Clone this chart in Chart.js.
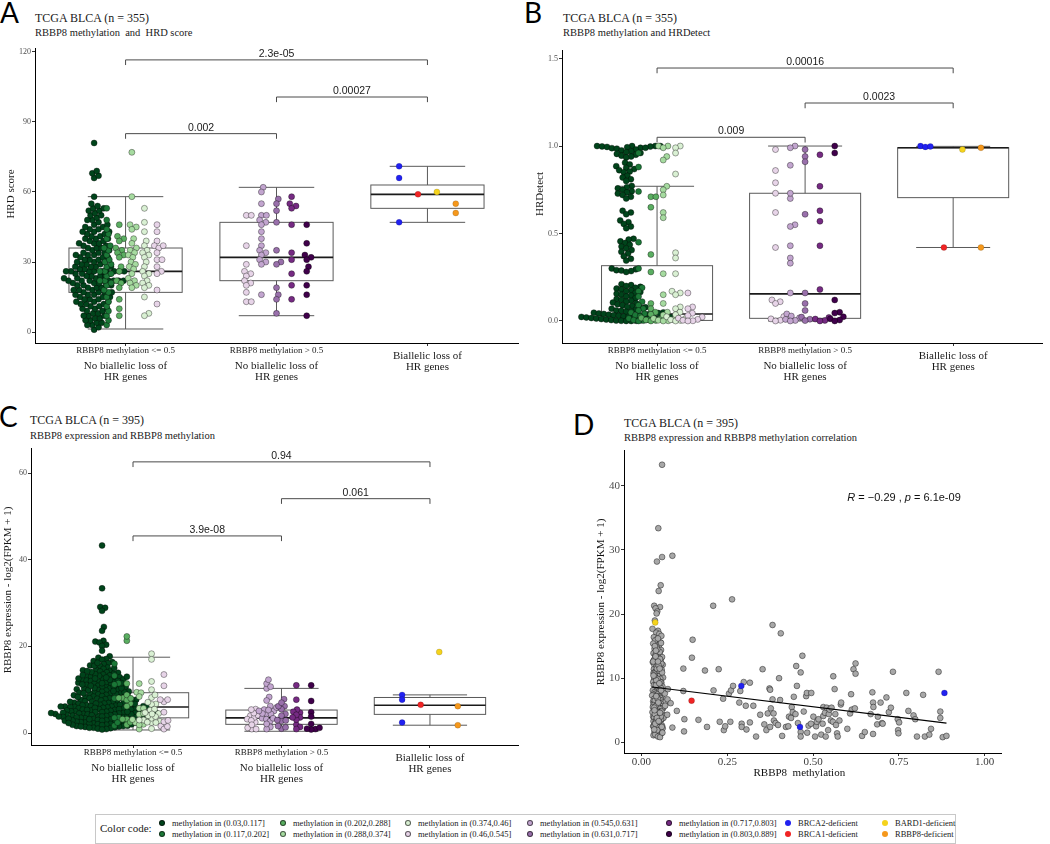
<!DOCTYPE html>
<html>
<head>
<meta charset="utf-8">
<script src="https://cdn.jsdelivr.net/npm/chart.js@4.4.1/dist/chart.umd.min.js"></script>
<style>
  body { margin: 0; width: 1050px; height: 844px; position: relative; overflow: hidden; background: #fff;
         font-family: 'Liberation Serif', serif; color: #1a1a1a; }
  canvas { position: absolute; }
  .txt { position: absolute; white-space: pre; line-height: 1; }
  .letter { font-family: Lato, sans-serif; font-size: 28px; color: #000; }
  .title { font-size: 12px; }
  .subtitle { font-size: 10.5px; }
  #legend { position: absolute; left: 95px; top: 814px; width: 861px; height: 30px; border: 1px solid #c8c8c8; box-sizing: border-box; }
  .lg-dot { position: absolute; width: 6px; height: 6px; border-radius: 50%; box-sizing: border-box; }
  .lg-txt { position: absolute; font-size: 8.5px; line-height: 10px; white-space: pre; color: #1a1a1a; }
</style>
</head>
<body>
<div class="txt letter" style="left:0px;top:-2px">A</div>
<div class="txt title" style="left:35px;top:12px">TCGA BLCA (n = 355)</div>
<div class="txt subtitle" style="left:35px;top:28px">RBBP8 methylation  and  HRD score</div>

<div class="txt letter" style="left:524px;top:-2px">B</div>
<div class="txt title" style="left:563px;top:12px">TCGA BLCA (n = 355)</div>
<div class="txt subtitle" style="left:563px;top:28px">RBBP8 methylation and HRDetect</div>

<div class="txt letter" style="left:-1px;top:402px">C</div>
<div class="txt title" style="left:30px;top:414px">TCGA BLCA (n = 395)</div>
<div class="txt subtitle" style="left:30px;top:431px">RBBP8 expression and RBBP8 methylation</div>

<div class="txt letter" style="left:573px;top:410px">D</div>
<div class="txt title" style="left:624px;top:417px">TCGA BLCA (n = 395)</div>
<div class="txt subtitle" style="left:624px;top:433px">RBBP8 expression and RBBP8 methylation correlation</div>

<canvas id="chartA" width="520" height="390" style="left:0;top:0"></canvas>
<canvas id="chartB" width="530" height="390" style="left:520px;top:0"></canvas>
<canvas id="chartC" width="520" height="400" style="left:0;top:390px"></canvas>
<canvas id="chartD" width="490" height="390" style="left:560px;top:400px"></canvas>

<div id="legend"></div>

<script>
// ---- shared categories and colours ----
const BIN_BREAKS = [0.03, 0.117, 0.202, 0.288, 0.374, 0.46, 0.545, 0.631, 0.717, 0.803, 0.889];
const BIN_COLORS = ['#00441b', '#1b7837', '#5aae61', '#a6dba0', '#d9f0d3', '#e7d4e8', '#c2a5cf', '#9970ab', '#762a83', '#40004b'];
const DEF_LABELS = ['BRCA2-deficient', 'BRCA1-deficient', 'BARD1-deficient', 'RBBP8-deficient'];
const DEF_COLORS = ['#2121f0', '#f02424', '#f5d31c', '#f5981c'];
const GROUP_SUBLABELS = ['RBBP8 methylation <= 0.5', 'RBBP8 methylation > 0.5', ''];
const GROUP_LABELS = [['No biallelic loss of', 'HR genes'], ['No biallelic loss of', 'HR genes'], ['Biallelic loss of', 'HR genes']];

// ---- A: HRD score by methylation bin ----
const hrdLow = [
  [1,2,3,3,4,4,5,5,6,6,7,7,7,8,8,9,9,10,10,10,11,11,12,12,12,13,13,13,14,14,14,15,15,15,16,16,16,17,17,17,17,18,18,18,19,19,19,
   20,20,20,20,21,21,21,22,22,22,22,22,22,22,22,23,23,23,24,24,24,24,25,25,25,26,26,26,26,26,26,26,26,27,27,27,28,28,28,28,29,29,29,
   30,30,30,31,31,31,32,32,32,33,33,33,34,34,34,35,35,36,36,36,37,37,38,38,38,39,39,40,40,40,41,41,42,42,43,43,43,44,44,45,45,46,46,
   47,48,48,49,50,50,51,52,52,53,53,54,55,58,66,67,68,69,81],
  [3,5,7,9,11,13,15,17,18,20,21,22,22,24,25,26,26,28,29,30,31,33,35,36,37,40,42,44,48,53],
  [46,41,40,39,36,35,34,33,32,28,26,22,21,19,14,10,7],
  [77,58,46,45,44,40,38,36,35,34,33,32,30,29,28,27,25,23,22,21,20,19],
  [53,47,43,39,37,35,34,33,32,30,28,26,25,24,22,21,20,19,15,8,7],
  [46,43,39,37,36,34,31,31,28,26,25,18,12,37]
];
const hrdHigh = [
  [50,50,37,29,26,25,24,22,21,20,17,13,13],
  [62,60,55,50,50,48,47,46,43,40,37,35,34,33,31,30,29,16],
  [57,55,52,47,35,30,29,19,16,14,8],
  [58,55,54,53,46,34,31,25,20,14],
  [46,38,33,32,31,28,26,20,16,7]
];
const hrdDef = [[71,66,47], [59], [60], [55,51]];
const hrdLo  = [1.3, 7, 47];
const hrdQ1  = [17, 22, 53];
const hrdMed = [26, 32, 59];
const hrdQ3  = [36, 47, 63];
const hrdHi  = [58, 62, 71];
const hrdTests = [[1, 3, 116.6, '2.3e-05'], [2, 3, 100.7, '0.00027'], [1, 2, 85, '0.002']];

// ---- B: HRDetect by methylation bin ----
const hrdetLow = [
  [1,1,1,1,0.998,0.997,0.995,0.993,0.99,0.99,0.988,0.985,0.98,0.975,0.97,0.965,0.96,0.955,0.95,0.945,0.94,0.935,
   0.905,0.895,0.885,0.875,0.868,0.862,0.855,0.85,0.83,0.82,0.81,0.8,
   0.772,0.765,0.758,0.75,0.742,0.735,0.728,0.72,0.71,0.7,0.63,0.62,0.61,0.575,0.565,0.555,0.54,0.53,
   0.47,0.465,0.455,0.445,0.435,0.425,0.415,0.405,0.395,0.385,0.37,0.355,0.345,0.3,0.295,0.29,0.288,0.285,0.28,
   0.21,0.205,0.2,0.195,0.19,0.185,0.18,0.175,0.17,0.165,0.16,0.155,0.15,0.145,0.14,
   0.13,0.125,0.12,0.115,0.11,0.105,0.1,0.095,0.09,0.085,0.08,0.078,0.075,0.07,0.065,0.06,0.058,0.055,0.052,
   0.049,0.047,0.045,0.043,0.041,0.04,0.038,0.036,0.034,0.033,0.031,0.03,0.028,0.026,0.025,0.023,0.021,0.02,
   0.019,0.017,0.015,0.014,0.012,0.011,0.009,0.008,0.006,0.005,0.004,0.002,0.001,0.001,0,0],
  [0.96,0.88,0.74,0.45,0.3,0.19,0.17,0.14,0.11,0.09,0.07,0.06,0.048,0.041,0.033,0.027,0.02,0.014,0.009,0.005,0.002,0],
  [0.71,0.71,0.65,0.38,0.28,0.1,0.07,0.05,0.038,0.026,0.017,0.011,0.006,0.003,0],
  [1,1,0.99,0.94,0.92,0.77,0.75,0.72,0.62,0.59,0.27,0.15,0.1,0.05,0.034,0.022,0.014,0.008,0.004,0.001,0],
  [1,0.99,0.96,0.84,0.39,0.36,0.27,0.17,0.16,0.15,0.08,0.07,0.05,0.036,0.024,0.013,0.007,0.003,0],
  [0.16,0.08,0.07,0.044,0.031,0.022,0.016,0.009,0.004,0.001,0]
];
const hrdetHigh = [
  [0.98,0.86,0.79,0.73,0.62,0.42,0.12,0.11,0.1,0.025,0.012,0.004,0],
  [1,0.99,0.89,0.7,0.73,0.55,0.54,0.43,0.36,0.33,0.16,0.04,0.028,0.018,0.009,0.003,0],
  [0.98,0.94,0.91,0.61,0.16,0.1,0.06,0.022,0.01,0.002],
  [0.95,0.77,0.63,0.57,0.43,0.18,0.02,0.011,0.003,0],
  [1,0.96,0.12,0.05,0.045,0.024,0.013,0.005,0]
];
const hrdetDef = [[1, 0.995, 0.998], [0.42], [0.98], [0.99, 0.42]];
const hrdetLo  = [0, 0, 0.42];
const hrdetQ1  = [0.003, 0.015, 0.705];
const hrdetMed = [0.04, 0.155, 0.99];
const hrdetQ3  = [0.316, 0.73, 0.99];
const hrdetHi  = [0.77, 1, 0.998];
const hrdetTests = [[1, 3, 1.446, '0.00016'], [2, 3, 1.246, '0.0023'], [1, 2, 1.05, '0.009']];

// ---- C / D: RBBP8 methylation and expression per sample ----
const denseSamples = [ // [methylation, expression]
  [0.060,43.3],[0.049,33.4],[0.090,29.1],[0.060,28.9],[0.045,28.2],[0.056,24.5],[0.050,23.6],[0.037,21.3],[0.054,21.1],[0.041,20.9],
  [0.046,20.4],[0.044,20.1],[0.039,19.0],[0.032,17.7],[0.048,17.4],[0.043,17.1],[0.052,16.9],[0.058,16.6],[0.036,16.4],[0.047,16.1],
  [0.040,15.9],[0.055,15.6],[0.034,15.4],[0.051,15.1],[0.045,14.8],[0.038,14.6],[0.057,14.4],[0.042,14.2],[0.049,14.0],[0.035,13.9],
  [0.053,13.7],[0.044,13.5],[0.060,13.3],[0.039,13.1],[0.047,13.0],[0.041,12.9],[0.056,12.7],[0.033,12.5],[0.050,12.4],[0.045,12.2],
  [0.062,12.1],[0.038,12.0],[0.054,11.9],[0.043,11.7],[0.048,11.6],[0.036,11.4],[0.059,11.3],[0.046,11.1],[0.040,11.0],[0.052,10.9],
  [0.035,10.8],[0.057,10.6],[0.044,10.5],[0.049,10.3],[0.038,10.2],[0.063,10.1],[0.042,10.0],[0.055,9.9],[0.037,9.8],[0.047,9.6],
  [0.051,9.5],[0.034,9.4],[0.058,9.3],[0.045,9.1],[0.040,9.0],[0.053,9.0],[0.036,8.9],[0.049,8.8],[0.061,8.7],[0.043,8.6],
  [0.056,8.5],[0.039,8.4],[0.046,8.3],[0.052,8.2],[0.033,8.1],[0.065,8.0],[0.044,8.0],[0.050,7.9],[0.038,7.8],[0.057,7.7],
  [0.042,7.6],[0.047,7.5],[0.035,7.4],[0.060,7.3],[0.045,7.2],[0.053,7.1],[0.040,7.0],[0.048,7.0],[0.068,7.6],[0.031,7.3],
  [0.055,6.9],[0.037,6.8],[0.051,6.7],[0.043,6.6],[0.058,6.5],[0.034,6.4],[0.046,6.3],[0.062,6.2],[0.041,6.1],[0.049,6.0],
  [0.054,6.0],[0.036,6.1],[0.044,6.2],[0.059,6.0],[0.039,6.5],[0.047,6.8],[0.071,6.4],[0.052,5.9],[0.035,5.8],[0.045,5.7],
  [0.057,5.6],[0.040,5.5],[0.050,5.4],[0.063,5.3],[0.038,5.2],[0.048,5.1],[0.043,5.0],[0.055,5.0],[0.033,5.5],[0.046,5.8],
  [0.060,5.3],[0.041,5.6],[0.053,5.2],[0.069,5.7],[0.037,5.4],[0.049,4.9],[0.042,4.8],[0.056,4.7],[0.036,4.6],[0.051,4.5],
  [0.044,4.4],[0.061,4.3],[0.039,4.2],[0.047,4.1],[0.054,4.0],[0.034,4.0],[0.045,4.5],[0.058,4.8],[0.040,4.3],[0.050,4.6],
  [0.066,4.1],[0.043,4.4],[0.032,4.7],[0.052,3.9],[0.038,3.8],[0.046,3.7],[0.059,3.6],[0.041,3.5],[0.048,3.4],[0.035,3.3],
  [0.055,3.2],[0.044,3.1],[0.050,3.0],[0.064,3.8],[0.037,3.9],[0.053,3.5],[0.042,3.3],[0.057,3.6],[0.047,3.7],[0.039,2.9],
  [0.051,2.8],[0.045,2.7],[0.060,2.6],[0.034,2.5],[0.049,2.4],[0.043,2.3],[0.056,2.2],[0.040,2.1],[0.052,2.0],[0.036,2.5],
  [0.047,2.8],[0.062,2.2],[0.044,2.6],[0.050,1.9],[0.041,1.8],[0.055,1.7],[0.038,1.6],[0.046,1.5],[0.058,1.4],[0.043,1.3],
  [0.049,1.2],[0.035,1.1],[0.053,1.0],[0.045,1.6],[0.040,1.2],[0.048,0.9],[0.054,0.8],[0.042,8.9],[0.055,9.4],[0.047,9.9],
  [0.038,10.7],[0.051,11.2],[0.044,11.8],[0.058,12.3],[0.036,12.8],[0.049,13.2],[0.041,13.6],[0.053,14.1],[0.046,14.5],[0.039,15.0],
  [0.057,15.5],[0.048,16.2],[0.043,9.7],[0.052,9.2],[0.037,10.4],[0.060,10.9],[0.045,11.5],[0.050,12.0],[0.034,12.6],[0.054,13.0],
  [0.042,14.3],[0.047,4.7],[0.039,4.4],[0.056,4.0],[0.044,3.6],[0.051,3.2],[0.040,2.9],[0.059,2.4],[0.046,1.9],[0.035,10.4],
  [0.053,11.5],[0.048,12.6],[0.041,13.4],[0.057,8.1],[0.043,7.2],[0.049,6.2],[0.038,5.0],[0.054,4.6],[0.045,3.8],[0.050,3.3],
  [0.037,2.0],[0.061,1.5]
];
const spreadSamples = [ // [methylation, expression]
  [0.077,8.3],[0.076,6.7],[0.075,4.3],[0.085,6.1],[0.090,2.3],[0.103,4.9],[0.122,8.0],[0.122,11.5],[0.125,3.6],[0.124,1.7],
  [0.147,13.2],[0.149,16.0],[0.166,3.5],[0.185,11.2],[0.191,2.4],[0.209,21.3],[0.210,8.1],[0.225,11.4],[0.228,3.2],[0.238,6.8],
  [0.240,1.9],[0.244,2.5],[0.255,7.6],[0.259,3.2],[0.261,8.1],[0.264,22.3],[0.267,8.8],[0.285,6.2],[0.288,8.0],[0.292,2.9],
  [0.292,2.4],[0.298,9.4],[0.306,2.0],[0.304,5.7],[0.316,9.3],[0.316,3.1],[0.326,5.7],[0.334,0.9],[0.346,4.3],[0.353,11.4],
  [0.358,2.8],[0.364,1.9],[0.368,4.5],[0.373,8.4],[0.375,2.4],[0.375,8.2],[0.377,5.3],[0.382,18.3],[0.382,6.7],[0.385,4.5],
  [0.386,3.4],[0.391,3.0],[0.398,2.7],[0.401,10.0],[0.404,6.6],[0.406,17.0],[0.410,1.0],[0.421,2.4],[0.428,2.5],[0.430,4.0],
  [0.436,3.8],[0.438,5.5],[0.441,4.7],[0.444,7.1],[0.449,4.4],[0.451,11.9],[0.453,8.8],[0.456,3.0],[0.464,10.9],[0.464,1.6],
  [0.464,0.9],[0.469,13.5],[0.473,4.8],[0.480,7.2],[0.482,7.7],[0.483,1.5],[0.487,2.6],[0.494,2.9],[0.495,7.7],
  [0.501,4.0],[0.506,0.9],[0.509,2.5],[0.511,3.2],[0.516,3.6],[0.524,1.2],[0.528,2.9],[0.530,5.5],[0.530,4.1],[0.535,4.6],
  [0.537,0.9],[0.540,5.4],[0.544,1.9],[0.546,4.4],[0.548,5.1],[0.552,3.4],[0.554,5.4],[0.558,3.2],[0.559,10.3],[0.563,8.3],
  [0.565,4.4],[0.567,2.7],[0.570,1.4],[0.572,0.9],[0.577,3.4],[0.581,5.9],[0.582,6.2],[0.600,2.1],[0.608,4.5],[0.611,7.5],
  [0.613,5.1],[0.618,11.4],[0.622,5.3],[0.624,12.3],[0.624,10.7],[0.643,1.0],[0.651,1.6],[0.668,4.4],[0.673,7.8],[0.675,6.2],
  [0.675,1.3],[0.676,5.5],[0.687,2.8],[0.689,4.0],[0.697,6.2],[0.701,3.0],[0.703,2.9],[0.714,7.0],[0.721,4.7],[0.727,5.4],
  [0.733,11.0],[0.747,3.6],[0.748,1.9],[0.749,1.4],[0.751,3.1],[0.772,7.7],[0.778,4.9],[0.793,4.2],[0.798,3.6],[0.803,0.9],
  [0.821,7.4],[0.826,0.9],[0.839,1.2],[0.844,2.1],[0.866,11.0],[0.871,4.8],[0.871,3.8],[0.878,0.8],[0.889,1.0]
];
const defType = [0, 0, 0, 1, 2, 3, 3];
const defMeth = [0.291, 0.883, 0.462, 0.146, 0.040, null, null];
const defExpr = [8.8, 7.7, 2.4, 6.5, 18.7, 6.2, 1.8];
const exprLo  = [0.7, 0.4, 1.8];
const exprQ1  = [3.5, 2.0, 4.3];
const exprMed = [6.0, 3.5, 6.4];
const exprQ3  = [9.3, 5.3, 8.2];
const exprHi  = [17.5, 10.3, 8.8];
const exprTests = [[1, 3, 62.6, '0.94'], [2, 3, 54.1, '0.061'], [1, 2, 45.5, '3.9e-08']];
const corLabel = { x: 0.6, y: 37.6, r: '\u22120.29', p: '6.1e-09' };

// ---- helpers ----
function binOf(m) {
  for (let i = 1; i < BIN_BREAKS.length; i++) if (m <= BIN_BREAKS[i]) return i - 1;
  return BIN_BREAKS.length - 2;
}

// simple swarm: place points (sorted by value) as close to the centre as possible without overlap
function beeswarm(pys, d) {
  const idx = pys.map((_, i) => i).sort((a, b) => pys[b] - pys[a]);
  const placed = [];
  const out = new Array(pys.length).fill(0);
  idx.forEach(i => {
    const y = pys[i];
    const near = placed.filter(p => Math.abs(p.y - y) < d);
    const cands = [0];
    near.forEach(p => {
      const dx = Math.sqrt(d * d - (p.y - y) ** 2);
      cands.push(p.x + dx, p.x - dx);
    });
    cands.sort((a, b) => Math.abs(a) - Math.abs(b));
    const best = cands.find(c => near.every(p => (p.x - c) ** 2 + (p.y - y) ** 2 >= d * d - 0.01));
    placed.push({ x: best, y });
    out[i] = best;
  });
  return out;
}

function applySwarm(chart, spacing) {
  const xs = chart.scales.x, ys = chart.scales.y;
  chart.data.datasets.forEach(ds => {
    if (ds.swarmCenter === undefined) return;
    const cx = xs.getPixelForValue(ds.swarmCenter);
    const offs = beeswarm(ds.data.map(p => ys.getPixelForValue(p.y)), spacing);
    ds.data.forEach((p, i) => { p.x = xs.getValueForPixel(cx + offs[i]); });
  });
  chart.update('none');
}

// ---- plugins ----
const boxPlugin = {
  id: 'boxes',
  beforeDatasetsDraw(chart, args, o) {
    if (!o.med) return;
    const { ctx, scales: { x, y } } = chart;
    ctx.save();
    ctx.strokeStyle = '#5a5a5a';
    ctx.lineWidth = 1;
    o.med.forEach((m, i) => {
      const c = i + 1;
      const xl = x.getPixelForValue(c - 0.375), xr = x.getPixelForValue(c + 0.375);
      const cl = x.getPixelForValue(c - 0.25), cr = x.getPixelForValue(c + 0.25);
      const xc = x.getPixelForValue(c);
      const yLo = y.getPixelForValue(o.lo[i]), yHi = y.getPixelForValue(o.hi[i]);
      const yQ1 = y.getPixelForValue(o.q1[i]), yQ3 = y.getPixelForValue(o.q3[i]);
      const yM = y.getPixelForValue(m);
      ctx.beginPath();
      ctx.moveTo(cl, yHi); ctx.lineTo(cr, yHi);
      ctx.moveTo(cl, yLo); ctx.lineTo(cr, yLo);
      ctx.moveTo(xc, yHi); ctx.lineTo(xc, yQ3);
      ctx.moveTo(xc, yQ1); ctx.lineTo(xc, yLo);
      ctx.stroke();
      ctx.strokeRect(xl, yQ3, xr - xl, yQ1 - yQ3);
      ctx.save();
      ctx.strokeStyle = '#1a1a1a';
      ctx.lineWidth = 1.6;
      ctx.beginPath(); ctx.moveTo(xl, yM); ctx.lineTo(xr, yM); ctx.stroke();
      ctx.restore();
    });
    ctx.restore();
  },
  afterDatasetsDraw(chart, args, o) {
    if (!o.tests) return;
    const { ctx, scales: { x, y } } = chart;
    ctx.save();
    ctx.strokeStyle = '#4a4a4a';
    ctx.lineWidth = 1;
    ctx.fillStyle = '#1a1a1a';
    ctx.font = '10.5px "Liberation Sans", Arial, sans-serif';
    ctx.textAlign = 'center';
    ctx.textBaseline = 'alphabetic';
    o.tests.forEach(([a, b, v, label]) => {
      const xa = x.getPixelForValue(a), xb = x.getPixelForValue(b);
      const yv = y.getPixelForValue(v), yt = y.getPixelForValue(v - o.tip);
      ctx.beginPath();
      ctx.moveTo(xa, yt); ctx.lineTo(xa, yv); ctx.lineTo(xb, yv); ctx.lineTo(xb, yt);
      ctx.stroke();
      ctx.fillText(label, (xa + xb) / 2, yv - 3);
    });
    ctx.restore();
  },
  afterDraw(chart, args, o) {
    const { ctx, chartArea, scales: { x } } = chart;
    ctx.save();
    ctx.fillStyle = '#1a1a1a';
    ctx.textAlign = 'center';
    ctx.textBaseline = 'middle';
    if (o.groups) {
      const b = chartArea.bottom;
      GROUP_LABELS.forEach((lines, i) => {
        const xc = x.getPixelForValue(i + 1);
        if (GROUP_SUBLABELS[i]) {
          ctx.font = '9px "Liberation Serif", serif';
          ctx.fillText(GROUP_SUBLABELS[i], xc, b + 8);
          ctx.font = '11px "Liberation Serif", serif';
          ctx.fillText(lines[0], xc, b + 23.5);
          ctx.fillText(lines[1], xc, b + 34.5);
        } else {
          ctx.font = '11px "Liberation Serif", serif';
          ctx.fillText(lines[0], xc, b + 13);
          ctx.fillText(lines[1], xc, b + 24.5);
        }
      });
    }
    if (o.yTitle) {
      ctx.font = o.yTitleFont || '11px "Liberation Serif", serif';
      ctx.translate(o.yTitleX, o.yTitleY);
      ctx.rotate(-Math.PI / 2);
      ctx.fillText(o.yTitle, 0, 0);
    }
    ctx.restore();
  }
};

function baseScales(p) {
  return {
    x: {
      type: 'linear', min: p.xMin, max: p.xMax,
      afterBuildTicks: s => { s.ticks = p.xTicks.map(v => ({ value: v })); },
      afterFit: s => { s.height = p.xH; },
      border: { color: '#000', width: 1 },
      grid: { drawOnChartArea: false, color: '#333', tickLength: 3 },
      ticks: {
        display: !!p.xLabels, padding: 0, color: '#3a3a3a',
        font: { family: 'Liberation Serif', size: 11 },
        callback: v => p.xLabels ? v.toFixed(2) : ''
      }
    },
    y: {
      type: 'linear', min: p.yMin, max: p.yMax,
      afterBuildTicks: s => { s.ticks = p.yTicks.map(v => ({ value: v })); },
      afterFit: s => { s.width = p.yW; },
      border: { color: '#000', width: 1 },
      grid: { drawOnChartArea: false, color: '#333', tickLength: 3 },
      ticks: {
        padding: 1, color: '#4d4d4d',
        font: { family: 'Liberation Serif', size: p.yTickSize || 8 },
        callback: v => p.yFmt ? p.yFmt(v) : String(v)
      }
    }
  };
}

function buildGroups(groups) {
  const datasets = [];
  groups.forEach((g, gi) => {
    const n = g.bins.length;
    g.bins.forEach((vals, bi) => {
      const c = gi + 1 + (bi - (n - 1) / 2) * (0.5 / n);
      datasets.push({
        data: vals.map(v => ({ x: c, y: v })),
        swarmCenter: c,
        backgroundColor: g.colors[bi],
        borderColor: g.def ? 'rgba(0,0,0,0.35)' : 'rgba(0,0,0,0.6)',
        borderWidth: g.def ? 0.4 : 0.6,
        pointRadius: 3,
        order: -datasets.length
      });
    });
  });
  return datasets;
}

function boxChart(id, p) {
  const chart = new Chart(document.getElementById(id), {
    type: 'scatter',
    data: { datasets: buildGroups(p.groups) },
    options: {
      responsive: false, animation: false, events: [], devicePixelRatio: 1,
      layout: { autoPadding: false, padding: p.pad },
      scales: baseScales(p),
      plugins: {
        legend: { display: false }, tooltip: { enabled: false },
        boxes: { lo: p.lo, q1: p.q1, med: p.med, q3: p.q3, hi: p.hi, tests: p.tests, tip: p.tip,
                 groups: true, yTitle: p.yTitle, yTitleX: p.yTitleX, yTitleY: p.yTitleY }
      }
    },
    plugins: [boxPlugin]
  });
  applySwarm(chart, p.spacing || 5.0);
  return chart;
}

// ---- panel A ----
boxChart('chartA', {
  groups: [
    { bins: hrdLow, colors: BIN_COLORS.slice(0, 6) },
    { bins: hrdHigh, colors: BIN_COLORS.slice(5) },
    { bins: hrdDef, colors: DEF_COLORS, def: true }
  ],
  lo: hrdLo, q1: hrdQ1, med: hrdMed, q3: hrdQ3, hi: hrdHi, tests: hrdTests, tip: 2.2,
  xMin: 0.4, xMax: 3.6, xTicks: [1, 2, 3], xH: 10,
  yMin: -4.7, yMax: 121.7, yTicks: [0, 30, 60, 90, 120], yW: 35,
  pad: { left: 0, top: 48, right: 2, bottom: 37 },
  yTitle: 'HRD score', yTitleX: 11, yTitleY: 194
});

// ---- panel B ----
boxChart('chartB', {
  groups: [
    { bins: hrdetLow, colors: BIN_COLORS.slice(0, 6) },
    { bins: hrdetHigh, colors: BIN_COLORS.slice(5) },
    { bins: hrdetDef, colors: DEF_COLORS, def: true }
  ],
  lo: hrdetLo, q1: hrdetQ1, med: hrdetMed, q3: hrdetQ3, hi: hrdetHi, tests: hrdetTests, tip: 0.03,
  xMin: 0.358, xMax: 3.6, xTicks: [1, 2, 3], xH: 10,
  yMin: -0.126, yMax: 1.549, yTicks: [0, 0.5, 1, 1.5], yW: 42, yFmt: v => v.toFixed(1),
  pad: { left: 0, top: 50, right: 8, bottom: 37 },
  yTitle: 'HRDetect', yTitleX: 20.5, yTitleY: 194
});

// ---- panel C: split the cohort by methylation and deficiency ----
const lowBins = [[], [], [], [], [], []];
const highBins = [[], [], [], [], []];
denseSamples.concat(spreadSamples).forEach(([m, e]) => {
  const b = binOf(m);
  if (m <= 0.5) lowBins[b].push(e); else highBins[b - 5].push(e);
});
const defBins = [[], [], [], []];
defType.forEach((t, i) => defBins[t].push(defExpr[i]));

boxChart('chartC', {
  groups: [
    { bins: lowBins, colors: BIN_COLORS.slice(0, 6) },
    { bins: highBins, colors: BIN_COLORS.slice(5) },
    { bins: defBins, colors: DEF_COLORS, def: true }
  ],
  lo: exprLo, q1: exprQ1, med: exprMed, q3: exprQ3, hi: exprHi, tests: exprTests, tip: 1.2,
  xMin: 0.313, xMax: 3.593, xTicks: [1, 2, 3], xH: 10,
  yMin: -2.77, yMax: 65.8, yTicks: [0, 20, 40, 60], yW: 31,
  pad: { left: 0, top: 58, right: 2, bottom: 35 },
  yTitle: 'RBBP8 expression - log2(FPKM + 1)', yTitleX: 8, yTitleY: 200,
  spacing: 4.3
});

// ---- panel D: scatter with linear fit ----
const allPts = denseSamples.concat(spreadSamples).map(([m, e]) => ({ x: m, y: e }));
const defPts = defType.map((t, i) => ({ x: defMeth[i], y: defExpr[i], t })).filter(p => p.x !== null);
const fitPts = allPts.concat(defPts);
const mx = fitPts.reduce((s, p) => s + p.x, 0) / fitPts.length;
const my = fitPts.reduce((s, p) => s + p.y, 0) / fitPts.length;
const slope = fitPts.reduce((s, p) => s + (p.x - mx) * (p.y - my), 0) / fitPts.reduce((s, p) => s + (p.x - mx) ** 2, 0);
const x0 = Math.min(...fitPts.map(p => p.x)), x1 = Math.max(...fitPts.map(p => p.x));

const corPlugin = {
  id: 'cor',
  afterDraw(chart) {
    const { ctx, scales: { x, y } } = chart;
    ctx.save();
    ctx.fillStyle = '#111';
    ctx.textBaseline = 'alphabetic';
    let px = x.getPixelForValue(corLabel.x);
    const py = y.getPixelForValue(corLabel.y);
    [['R', true], [' = ' + corLabel.r + ' , ', false], ['p', true], [' = ' + corLabel.p, false]].forEach(([t, it]) => {
      ctx.font = (it ? 'italic ' : '') + '11px "Liberation Sans", Arial, sans-serif';
      ctx.fillText(t, px, py);
      px += ctx.measureText(t).width;
    });
    ctx.font = '11px "Liberation Serif", serif';
    ctx.textAlign = 'center';
    ctx.textBaseline = 'middle';
    ctx.fillText('RBBP8  methylation', x.getPixelForValue(0.46), 373);
    ctx.translate(41, 202);
    ctx.rotate(-Math.PI / 2);
    ctx.fillText('RBBP8 expression - log2(FPKM + 1)', 0, 0);
    ctx.restore();
  }
};

new Chart(document.getElementById('chartD'), {
  type: 'scatter',
  data: {
    datasets: [
      {
        data: defPts, pointRadius: 3, borderWidth: 0.4, borderColor: 'rgba(0,0,0,0.4)',
        backgroundColor: defPts.map(p => DEF_COLORS[p.t]), order: 0
      },
      {
        type: 'line', data: [{ x: x0, y: my + slope * (x0 - mx) }, { x: x1, y: my + slope * (x1 - mx) }],
        borderColor: '#000', borderWidth: 1.2, pointRadius: 0, order: 1
      },
      {
        data: allPts, pointRadius: 2.9, borderWidth: 0.6, borderColor: 'rgba(0,0,0,0.7)',
        backgroundColor: '#a8a8a8', order: 2
      }
    ]
  },
  options: {
    responsive: false, animation: false, events: [], devicePixelRatio: 1,
    layout: { autoPadding: false, padding: { left: 0, top: 50, right: 48.3, bottom: 12 } },
    scales: baseScales({
      xMin: -0.051, xMax: 1.05, xTicks: [0, 0.25, 0.5, 0.75, 1], xH: 25, xLabels: true,
      yMin: -1.67, yMax: 45.6, yTicks: [0, 10, 20, 30, 40], yW: 64, yTickSize: 11
    }),
    plugins: { legend: { display: false }, tooltip: { enabled: false } }
  },
  plugins: [corPlugin]
});

// ---- legend ----
const legendCols = [162, 283, 408, 530, 669, 788, 885];
const legendRows = [823, 834];
const legend = document.getElementById('legend');
const lgItems = BIN_COLORS.map((c, i) => ({ c, t: `methylation in (${BIN_BREAKS[i]},${BIN_BREAKS[i + 1]}]`, edge: true }))
  .concat(DEF_LABELS.map((t, i) => ({ c: DEF_COLORS[i], t, edge: false })));
const cc = document.createElement('div');
cc.className = 'txt';
cc.style.cssText = 'left:4px;top:7px;font-size:11px;line-height:12px';
cc.textContent = 'Color code:';
legend.appendChild(cc);
lgItems.forEach((it, i) => {
  const col = Math.floor(i / 2), row = i % 2;
  const cx = legendCols[col] - 96, cy = legendRows[row] - 815;
  const dot = document.createElement('div');
  dot.className = 'lg-dot';
  dot.style.cssText = `left:${cx - 3}px;top:${cy - 3}px;background:${it.c};border:${it.edge ? '0.6px solid rgba(0,0,0,0.6)' : 'none'}`;
  legend.appendChild(dot);
  const t = document.createElement('div');
  t.className = 'lg-txt';
  t.style.left = (cx + 10) + 'px';
  t.style.top = (cy - 5) + 'px';
  t.textContent = it.t;
  legend.appendChild(t);
});
</script>
</body>
</html>
